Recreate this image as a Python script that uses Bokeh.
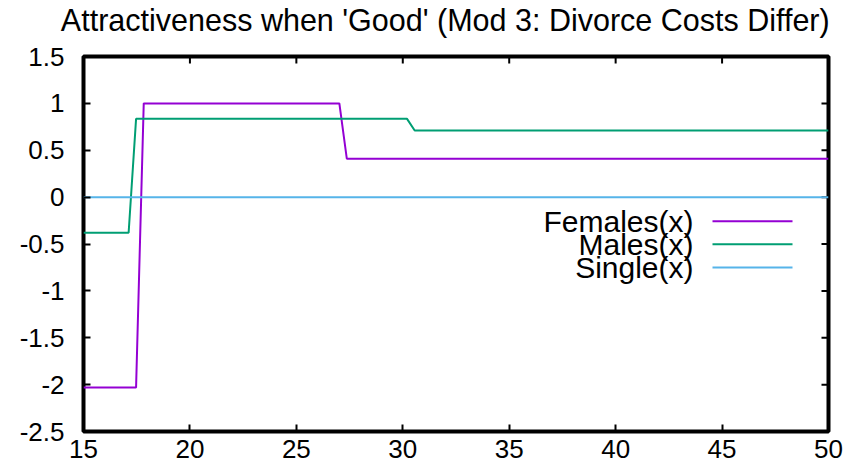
from bokeh.plotting import figure
from bokeh.models import Range1d, FixedTicker, Label
from bokeh.core.properties import value
from bokeh.embed import file_html
from bokeh.resources import INLINE

# ---- data ----
females_x = [15, 17.47, 17.83, 27.02, 27.37, 50]
females_y = [-2.03, -2.03, 1.0, 1.0, 0.41, 0.41]
males_x = [15, 17.12, 17.47, 30.20, 30.56, 50]
males_y = [-0.38, -0.38, 0.835, 0.835, 0.71, 0.71]
single_x = [15, 50]
single_y = [0, 0]

series_names = ["Females(x)", "Males(x)", "Single(x)"]
series_colors = ["#9400d3", "#009e73", "#56b4e9"]

x_ticks = [15, 20, 25, 30, 35, 40, 45, 50]
y_ticks = [-2.5, -2, -1.5, -1, -0.5, 0, 0.5, 1, 1.5]
y_tick_labels = ["-2.5", "-2", "-1.5", "-1", "-0.5", "0", "0.5", "1", "1.5"]

title_text = "Attractiveness when  'Good' (Mod 3: Divorce Costs Differ)"

# ---- layout constants ----
FONT = "Liberation Sans"
FS = "26px"
FS_TITLE = "30.5px"
FS_LEG = "30px"
FL, FT, FW, FH = 83, 56, 745, 375
W, H = 854, 468
X0, X1, Y0, Y1 = 15, 50, -2.5, 1.5
TICK = 7


def sx(px):
    return X0 + (px - FL) / FW * (X1 - X0)


def sy(py):
    return Y1 - (py - FT) / FH * (Y1 - Y0)


p = figure(width=W, height=H, output_backend="svg", toolbar_location=None,
           x_range=Range1d(X0, X1), y_range=Range1d(Y0, Y1),
           min_border_left=FL, min_border_right=W - FL - FW,
           min_border_top=FT, min_border_bottom=H - FT - FH)

p.background_fill_color = "white"
p.border_fill_color = "white"
p.outline_line_color = "black"
p.outline_line_width = 4
p.xgrid.grid_line_color = None
p.ygrid.grid_line_color = None

# title: a label in the panel above the frame (screen units relative to that panel)
title_center_off, title_y_off = 448 - FL + 1, 37
p.add_layout(Label(x=title_center_off, y=title_y_off,
                   x_units="screen", y_units="screen", text=title_text,
                   text_align="center", text_baseline="alphabetic",
                   text_font=FONT, text_font_size=FS_TITLE, text_color="black"),
             "above")


def style_axis(ax, ticks, overrides=None):
    ax.ticker = FixedTicker(ticks=ticks)
    ax.axis_line_color = None
    ax.major_tick_in = TICK
    ax.major_tick_out = 0
    ax.major_tick_line_width = 2
    ax.major_tick_line_color = "black"
    ax.minor_tick_line_color = None
    ax.major_label_text_font = FONT
    ax.major_label_text_font_size = FS
    ax.major_label_text_color = "black"
    if overrides:
        ax.major_label_overrides = overrides


style_axis(p.xaxis[0], x_ticks)
p.xaxis[0].major_label_standoff = 8
style_axis(p.yaxis[0], y_ticks, overrides={t: l for t, l in zip(y_ticks, y_tick_labels)})
p.yaxis[0].major_label_standoff = 19

# mirrored inward ticks on top and right border (gnuplot style)
dy = (Y1 - Y0) * TICK / FH
dx = (X1 - X0) * TICK / FW
p.segment(x0=x_ticks, x1=x_ticks, y0=[Y1] * len(x_ticks), y1=[Y1 - dy] * len(x_ticks),
          line_color="black", line_width=2)
p.segment(x0=[X1] * len(y_ticks), x1=[X1 - dx] * len(y_ticks), y0=y_ticks, y1=y_ticks,
          line_color="black", line_width=2)

xs = [females_x, males_x, single_x]
ys = [females_y, males_y, single_y]
for x, y, c in zip(xs, ys, series_colors):
    p.line(x, y, line_color=c, line_width=2)

# ---- legend (gnuplot style: text right-aligned, sample line to the right) ----
row_py = [220.7, 243.7, 267.0]
text_right_px = 693
line_px0, line_px1 = 712, 792
p.text(x=[sx(text_right_px)] * 3, y=[sy(v) for v in row_py], text=series_names,
       text_align="right", text_baseline="middle", text_font=value(FONT),
       text_font_size=value(FS_LEG), text_color="black")
p.segment(x0=[sx(line_px0)] * 3, x1=[sx(line_px1)] * 3,
          y0=[sy(v) for v in row_py], y1=[sy(v) for v in row_py],
          line_color=series_colors, line_width=2)

open("out.html", "w").write(file_html(p, INLINE))
